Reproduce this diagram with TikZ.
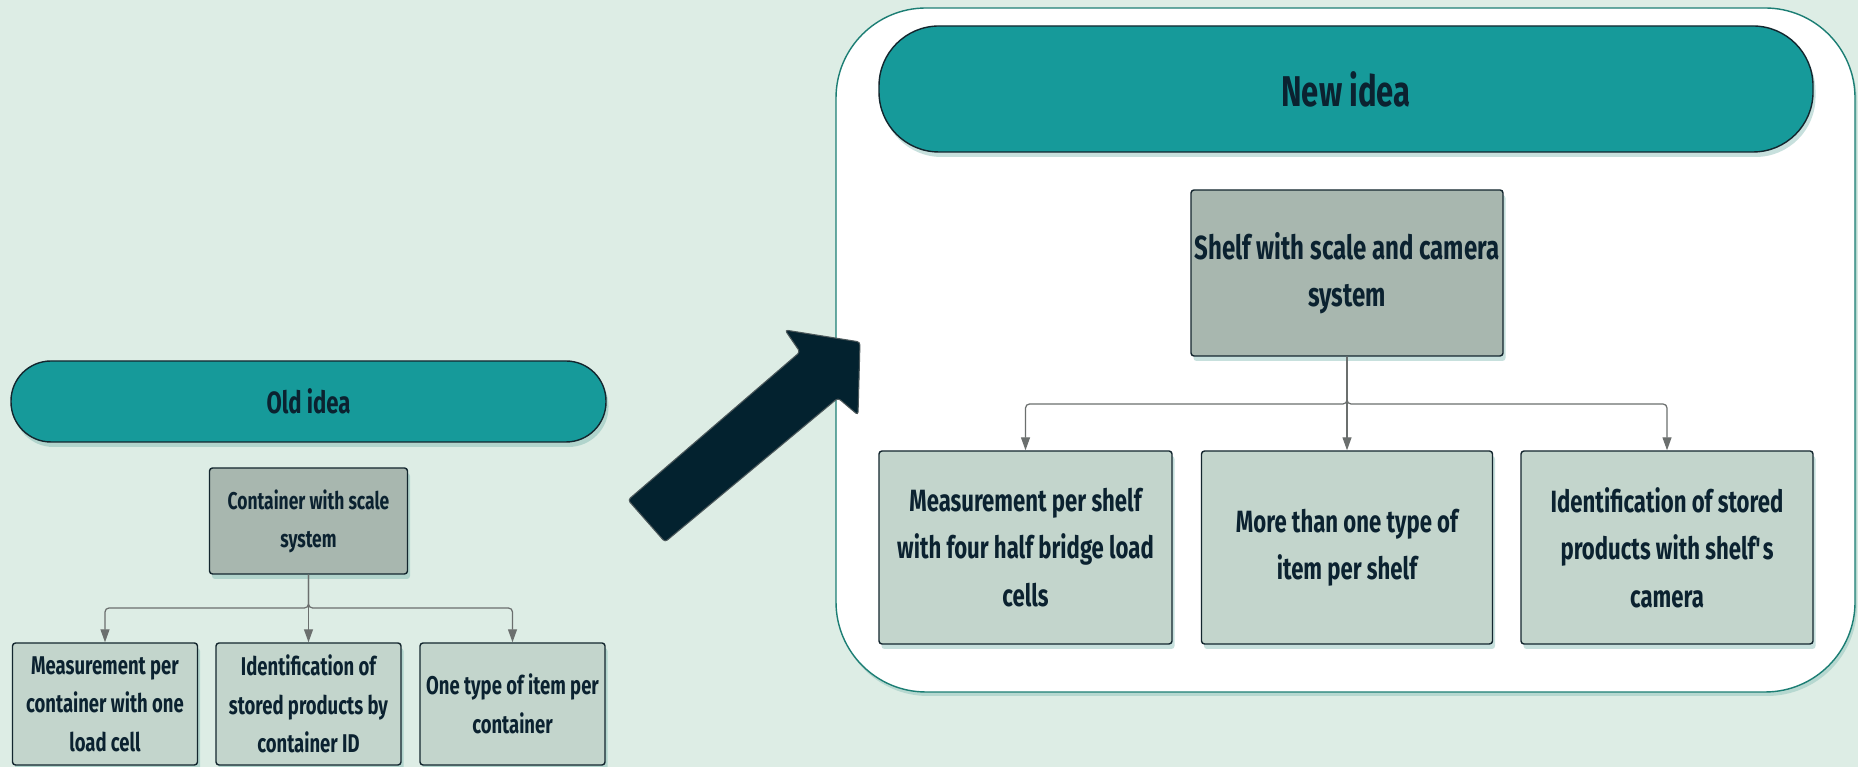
\documentclass[tikz,border=0pt]{standalone}
\usepackage{fontspec}
\setmainfont{Fira Sans}[FakeStretch=0.72]
\usetikzlibrary{shadows,arrows.meta}
\definecolor{IdBack}{HTML}{DDEDE5}
\definecolor{IdTeal}{HTML}{169A9A}
\definecolor{IdGrey}{HTML}{A8B7AF}
\definecolor{IdLeaf}{HTML}{C3D5CC}
\definecolor{IdInk}{HTML}{0B2230}
\definecolor{IdEdge}{HTML}{13262E}
\definecolor{IdFrame}{HTML}{1C7E74}
\definecolor{IdLink}{HTML}{6B6F6E}
\definecolor{IdShade}{HTML}{5FA8A0}
\definecolor{IdArrow}{HTML}{03222F}

\begin{document}
\begin{tikzpicture}[x=1cm,y=1cm,
  card/.style={draw=IdEdge,line width=0.8pt,text=IdInk,align=center,inner sep=0pt,
    drop shadow={shadow xshift=0.05cm,shadow yshift=-0.10cm,fill=IdShade,opacity=0.35}},
  pill/.style={card,fill=IdTeal},
  topbox/.style={card,fill=IdGrey,rounded corners=0.06cm},
  leafbox/.style={card,fill=IdLeaf,rounded corners=0.06cm},
  link/.style={draw=IdLink,line width=0.7pt,rounded corners=0.08cm,-{Triangle[length=0.26cm,width=0.18cm]}}]
\path[use as bounding box,fill=IdBack] (0,0) rectangle (37.16,15.34);
% frame of the new idea
\path[draw=IdFrame,line width=0.8pt,fill=white,rounded corners=1.8cm,
  drop shadow={shadow xshift=0.04cm,shadow yshift=-0.08cm,fill=IdShade,opacity=0.3}]
  (16.72,1.50) rectangle (37.10,15.18);
% old idea
\node[pill,minimum width=11.90cm,minimum height=1.62cm,rounded corners=0.8cm,font=\fontsize{17.5}{20}\selectfont\bfseries] (oldhead) at (6.17,7.31) {Old idea};
\node[topbox,minimum width=3.96cm,minimum height=2.12cm,font=\fontsize{13.8}{21.6}\selectfont\bfseries] (oldbox) at (6.17,4.92) {Container with scale\\system};
\coordinate (oldfork) at (6.17,3.18);
\node[leafbox,minimum width=3.70cm,minimum height=2.44cm,font=\fontsize{14.6}{22}\selectfont\bfseries] (old1) at (2.10,1.26) {Measurement per\\container with one\\load cell};
\node[leafbox,minimum width=3.70cm,minimum height=2.44cm,font=\fontsize{14.6}{22}\selectfont\bfseries] (old2) at (6.17,1.26) {Identification of\\stored products by\\container ID};
\node[leafbox,minimum width=3.70cm,minimum height=2.44cm,font=\fontsize{14.6}{22}\selectfont\bfseries] (old3) at (10.25,1.26) {One type of item per\\container};
\draw[link] (oldbox.south) -- (oldfork) -| (old1.north);
\draw[link] (oldbox.south) -- (oldfork) -- (old2.north);
\draw[link] (oldbox.south) -- (oldfork) -| (old3.north);
% big arrow
\draw[fill=IdArrow,draw=IdLink!70!IdArrow,line width=0.6pt,rounded corners=0.06cm]
  (12.56,5.34) -- (16.00,8.30) -- (15.70,8.74) -- (17.20,8.50) -- (17.16,7.04) -- (16.76,7.38) -- (13.30,4.50) -- cycle;
% new idea
\node[pill,minimum width=18.68cm,minimum height=2.52cm,rounded corners=1.2cm,font=\fontsize{24.5}{28}\selectfont\bfseries] (newhead) at (26.92,13.56) {New idea};
\node[topbox,minimum width=6.24cm,minimum height=3.32cm,font=\fontsize{19}{27}\selectfont\bfseries] (newbox) at (26.94,9.88) {Shelf with scale and camera\\system};
\coordinate (newfork) at (26.94,7.26);
\node[leafbox,minimum width=5.86cm,minimum height=3.86cm,font=\fontsize{17.5}{27}\selectfont\bfseries] (new1) at (20.51,4.39) {Measurement per shelf\\with four half bridge load\\cells};
\node[leafbox,minimum width=5.82cm,minimum height=3.86cm,font=\fontsize{17.5}{27}\selectfont\bfseries] (new2) at (26.94,4.39) {More than one type of\\item per shelf};
\node[leafbox,minimum width=5.84cm,minimum height=3.86cm,font=\fontsize{17.5}{27}\selectfont\bfseries] (new3) at (33.34,4.39) {Identification of stored\\products with shelf\textquotesingle s\\camera};
\draw[link] (newbox.south) -- (newfork) -| (new1.north);
\draw[link] (newbox.south) -- (newfork) -- (new2.north);
\draw[link] (newbox.south) -- (newfork) -| (new3.north);
\end{tikzpicture}
\end{document}
